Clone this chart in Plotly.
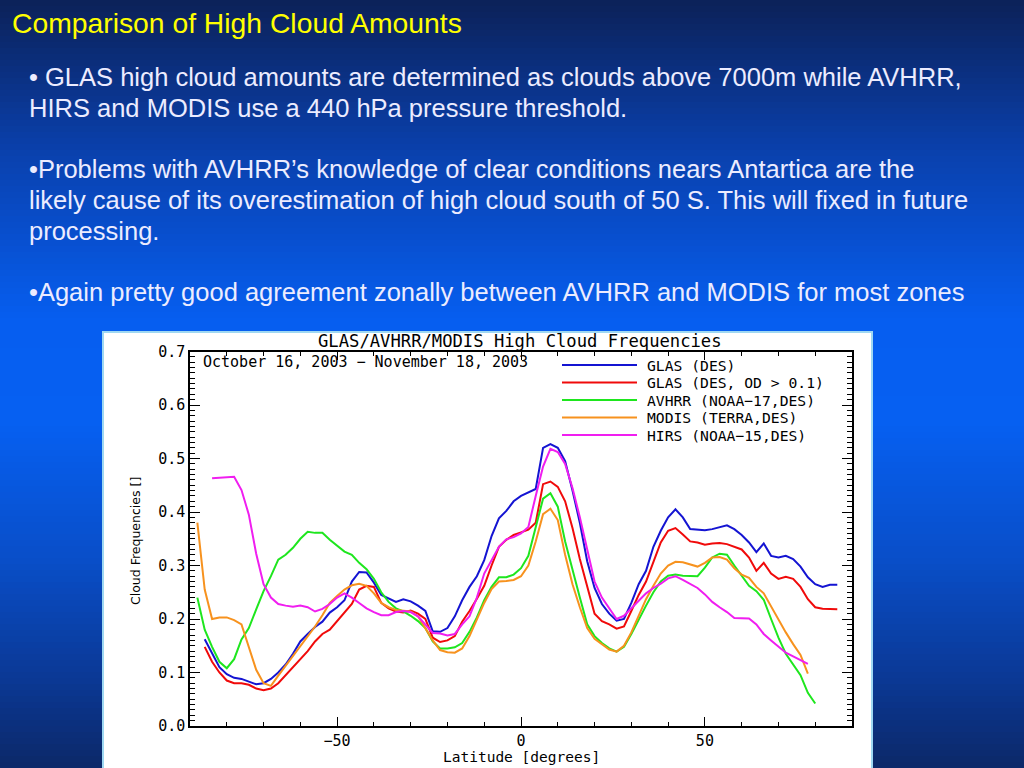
import plotly.graph_objects as go

# ---------------- data ----------------
LAT = [-88, -86, -84, -82, -80, -78, -76, -74, -72, -70, -68, -66, -64, -62, -60,
       -58, -56, -54, -52, -50, -48, -46, -44, -42, -40, -38, -36, -34, -32, -30,
       -28, -26, -24, -22, -20, -18, -16, -14, -12, -10, -8, -6, -4, -2, 0,
       2, 4, 6, 8, 10, 12, 14, 16, 18, 20, 22, 24, 26, 28, 30,
       32, 34, 36, 38, 40, 42, 44, 46, 48, 50, 52, 54, 56, 58, 60,
       62, 64, 66, 68, 70, 72, 74, 76, 78, 80, 82, 84, 86]

GLAS_DES = [None,
    0.162, 0.135, 0.110, 0.097, 0.090, 0.088, 0.083, 0.078, 0.080, 0.088,
    0.100, 0.115, 0.135, 0.158, 0.172, 0.185, 0.195, 0.212, 0.222, 0.235,
    0.270, 0.288, 0.287, 0.268, 0.245, 0.238, 0.232, 0.237, 0.233, 0.225,
    0.215, 0.177, 0.176, 0.183, 0.205, 0.235, 0.260, 0.280, 0.310, 0.355,
    0.388, 0.402, 0.420, 0.430, 0.437, 0.443, 0.520, 0.527, 0.520, 0.495,
    0.440, 0.380, 0.308, 0.258, 0.228, 0.210, 0.197, 0.200, 0.230, 0.265,
    0.290, 0.335, 0.365, 0.390, 0.405, 0.390, 0.368, 0.367, 0.366, 0.368,
    0.372, 0.375, 0.368, 0.357, 0.343, 0.325, 0.341, 0.318, 0.315, 0.318,
    0.312, 0.298, 0.278, 0.265, 0.260, 0.264, 0.264]

GLAS_OD = [None,
    0.148, 0.120, 0.100, 0.085, 0.080, 0.080, 0.077, 0.070, 0.067, 0.070,
    0.080, 0.095, 0.110, 0.123, 0.140, 0.158, 0.172, 0.180, 0.196, 0.211,
    0.228, 0.255, 0.262, 0.260, 0.230, 0.220, 0.214, 0.212, 0.216, 0.210,
    0.200, 0.165, 0.157, 0.160, 0.168, 0.195, 0.215, 0.238, 0.262, 0.300,
    0.335, 0.348, 0.357, 0.362, 0.367, 0.380, 0.452, 0.457, 0.447, 0.420,
    0.370, 0.312, 0.263, 0.210, 0.196, 0.190, 0.182, 0.186, 0.215, 0.245,
    0.270, 0.308, 0.343, 0.365, 0.370, 0.358, 0.345, 0.343, 0.339, 0.341,
    0.342, 0.340, 0.335, 0.330, 0.315, 0.290, 0.305, 0.285, 0.275, 0.279,
    0.275, 0.260, 0.237, 0.222, 0.219, 0.219, 0.218]

AVHRR = [
    0.240, 0.180, 0.148, 0.120, 0.108, 0.125, 0.162, 0.183, 0.218, 0.252,
    0.280, 0.311, 0.320, 0.333, 0.350, 0.363, 0.361, 0.361, 0.348, 0.337,
    0.326, 0.320, 0.305, 0.293, 0.275, 0.250, 0.232, 0.220, 0.214, 0.206,
    0.196, 0.183, 0.158, 0.145, 0.145, 0.147, 0.155, 0.176, 0.203, 0.235,
    0.260, 0.278, 0.278, 0.283, 0.295, 0.318, 0.370, 0.425, 0.435, 0.410,
    0.345, 0.290, 0.240, 0.190, 0.168, 0.155, 0.145, 0.139, 0.148, 0.172,
    0.200, 0.225, 0.250, 0.270, 0.281, 0.283, 0.281, 0.280, 0.280, 0.296,
    0.315, 0.322, 0.320, 0.300, 0.280, 0.262, 0.252, 0.236, 0.200, 0.165,
    0.135, 0.115, 0.095, 0.062, 0.042, None, None, None]

MODIS = [
    0.380, 0.255, 0.200, 0.203, 0.203, 0.198, 0.190, 0.147, 0.105, 0.080,
    0.075, 0.094, 0.112, 0.130, 0.148, 0.168, 0.186, 0.207, 0.230, 0.243,
    0.255, 0.263, 0.266, 0.262, 0.248, 0.230, 0.222, 0.217, 0.215, 0.214,
    0.205, 0.182, 0.160, 0.142, 0.138, 0.137, 0.145, 0.168, 0.198, 0.230,
    0.256, 0.270, 0.271, 0.273, 0.280, 0.300, 0.345, 0.396, 0.406, 0.385,
    0.320, 0.265, 0.222, 0.183, 0.163, 0.153, 0.143, 0.139, 0.150, 0.175,
    0.207, 0.237, 0.262, 0.285, 0.300, 0.307, 0.306, 0.302, 0.298, 0.305,
    0.315, 0.316, 0.311, 0.295, 0.283, 0.277, 0.260, 0.248, 0.223, 0.200,
    0.175, 0.153, 0.133, 0.098, None, None, None, None]

HIRS = [None, None,
    0.463, 0.464, 0.465, 0.466, 0.441, 0.395, 0.322, 0.265,
    0.240, 0.228, 0.225, 0.223, 0.225, 0.222, 0.214, 0.219, 0.228, 0.240,
    0.248, 0.240, 0.230, 0.220, 0.213, 0.207, 0.207, 0.213, 0.215, 0.213,
    0.205, 0.190, 0.174, 0.173, 0.169, 0.172, 0.190, 0.205, 0.240, 0.285,
    0.310, 0.335, 0.349, 0.353, 0.360, 0.372, 0.430, 0.485, 0.518, 0.512,
    0.490, 0.445, 0.390, 0.328, 0.270, 0.240, 0.221, 0.200, 0.206, 0.220,
    0.236, 0.248, 0.258, 0.266, 0.276, 0.280, 0.273, 0.266, 0.258, 0.246,
    0.232, 0.222, 0.213, 0.202, 0.202, 0.201, 0.190, 0.172, 0.160, 0.148,
    0.137, 0.130, 0.123, 0.116, None, None, None, None]

SERIES_NAMES = ["GLAS (DES)", "GLAS (DES, OD > 0.1)", "AVHRR (NOAA\u221217,DES)",
                "MODIS (TERRA,DES)", "HIRS (NOAA\u221215,DES)"]
SERIES_COLORS = ["#1414d2", "#f00a0a", "#1ee61e", "#f7921e", "#f01ef0"]
SERIES_DATA = [GLAS_DES, GLAS_OD, AVHRR, MODIS, HIRS]

X_TICKS = [-50, 0, 50]
X_TICKTEXT = ["\u221250", "0", "50"]

SLIDE_TITLE = "Comparison of High Cloud Amounts"
BODY_LINES = [
    "\u2022 GLAS high cloud amounts are determined as clouds above 7000m while AVHRR,",
    "HIRS and MODIS use a 440 hPa pressure threshold.",
    "\u2022Problems with AVHRR\u2019s knowledge of clear conditions nears Antartica are the",
    "likely cause of its overestimation of high cloud south of 50 S. This will fixed in future",
    "processing.",
    "\u2022Again pretty good agreement zonally between AVHRR and MODIS for most zones",
]
BODY_Y = [77, 108, 169, 200, 231, 292]
BODY_X = [27, 27, 27, 27, 27, 27]

CHART_TITLE = "GLAS/AVHRR/MODIS High Cloud Frequencies"
DATE_TEXT = "October 16, 2003 \u2212 November 18, 2003"
X_TITLE = "Latitude [degrees]"
Y_TITLE = "Cloud Frequencies []"

# ---------------- layout helpers ----------------
W, H = 1024, 768


def px(x):
    return x / W


def py(y):
    return 1 - y / H


def lerp(a, b, t):
    return tuple(int(round(a[i] + (b[i] - a[i]) * t)) for i in range(3))


GRAD_STOPS = [(0, (12, 33, 88)), (150, (10, 64, 172)), (320, (6, 94, 240)),
              (420, (6, 96, 242)), (560, (9, 78, 200)), (680, (11, 56, 148)),
              (768, (12, 40, 104))]


def grad_color(y):
    for (y0, c0), (y1, c1) in zip(GRAD_STOPS[:-1], GRAD_STOPS[1:]):
        if y0 <= y <= y1:
            return "rgb(%d,%d,%d)" % lerp(c0, c1, (y - y0) / (y1 - y0))
    return "rgb(%d,%d,%d)" % GRAD_STOPS[-1][1]


shapes = []
band = 6
for y in range(0, H, band):
    shapes.append(dict(type="rect", xref="paper", yref="paper", x0=0, x1=1,
                       y0=py(min(H, y + band + 1)), y1=py(y),
                       fillcolor=grad_color(y + band / 2), line=dict(width=0),
                       layer="below"))
# white chart panel
shapes.append(dict(type="rect", xref="paper", yref="paper",
                   x0=px(103), x1=px(872), y0=py(769), y1=py(332),
                   fillcolor="white", line=dict(color="#9fd8f2", width=2),
                   layer="below"))

fig = go.Figure()
for name, color, vals in zip(SERIES_NAMES, SERIES_COLORS, SERIES_DATA):
    fig.add_trace(go.Scatter(x=LAT, y=vals, mode="lines", name=name,
                             line=dict(color=color, width=2),
                             connectgaps=False, showlegend=False))

annotations = []
mono = "DejaVu Sans Mono"
# custom legend
leg_y = [365, 382.5, 400, 417.5, 435]
for name, color, ly in zip(SERIES_NAMES, SERIES_COLORS, leg_y):
    shapes.append(dict(type="line", xref="paper", yref="paper",
                       x0=px(562), x1=px(637), y0=py(ly), y1=py(ly),
                       line=dict(color=color, width=2)))
    annotations.append(dict(text=name, xref="paper", yref="paper",
                            x=px(645), y=py(ly), xanchor="left", yanchor="middle",
                            showarrow=False, font=dict(family=mono, size=14.7, color="black")))

annotations.append(dict(text=CHART_TITLE, xref="paper", yref="paper",
                        x=px(520), y=py(341), xanchor="center", yanchor="middle",
                        showarrow=False, font=dict(family=mono, size=17.2, color="black")))
annotations.append(dict(text=DATE_TEXT, xref="paper", yref="paper",
                        x=px(201), y=py(362), xanchor="left", yanchor="middle",
                        showarrow=False, font=dict(family=mono, size=15, color="black")))
annotations.append(dict(text=X_TITLE, xref="paper", yref="paper",
                        x=px(521), y=py(757), xanchor="center", yanchor="middle",
                        showarrow=False, font=dict(family=mono, size=14.5, color="black")))
annotations.append(dict(text=Y_TITLE, xref="paper", yref="paper", textangle=-90,
                        x=px(135), y=py(541), xanchor="center", yanchor="middle",
                        showarrow=False, font=dict(family="DejaVu Sans", size=12.5, color="black")))

sans = "Liberation Sans, Arial, sans-serif"
annotations.append(dict(text=SLIDE_TITLE, xref="paper", yref="paper",
                        x=px(10), y=py(23), xanchor="left", yanchor="middle",
                        showarrow=False, font=dict(family=sans, size=28.3, color="#ffff00")))
for txt, bx, by in zip(BODY_LINES, BODY_X, BODY_Y):
    annotations.append(dict(text=txt, xref="paper", yref="paper",
                            x=px(bx), y=py(by), xanchor="left", yanchor="middle",
                            showarrow=False, font=dict(family=sans, size=25.5, color="#ececff")))

axis_common = dict(showline=True, linecolor="black", linewidth=1.5, mirror="allticks",
                   ticks="inside", tickcolor="black", tickwidth=1.2, showgrid=False,
                   zeroline=False, automargin=False,
                   tickfont=dict(family=mono, size=15, color="black"))

fig.update_layout(
    width=W, height=H, margin=dict(l=0, r=0, t=0, b=0, pad=0, autoexpand=False),
    paper_bgcolor=grad_color(384), plot_bgcolor="rgba(0,0,0,0)",
    shapes=shapes, annotations=annotations, showlegend=False,
    xaxis=dict(domain=[px(190), px(852)], range=[-90, 90],
               tickvals=X_TICKS, ticktext=X_TICKTEXT, ticklen=9,
               minor=dict(dtick=10, tick0=0, ticklen=4.5, ticks="inside",
                          tickcolor="black", tickwidth=1.2),
               **axis_common),
    yaxis=dict(domain=[py(726), py(351.5)], range=[0, 0.7],
               dtick=0.1, tick0=0, tickformat=".1f", ticklen=10,
               minor=dict(dtick=0.01, tick0=0, ticklen=5, ticks="inside",
                          tickcolor="black", tickwidth=1),
               **axis_common),
)

fig.write_html("out.html",
               config={"displayModeBar": False},
               post_script="document.body.style.margin='0';"
                           "document.body.style.padding='0';"
                           "document.body.style.overflow='hidden';"
                           "document.documentElement.style.overflow='hidden';")
